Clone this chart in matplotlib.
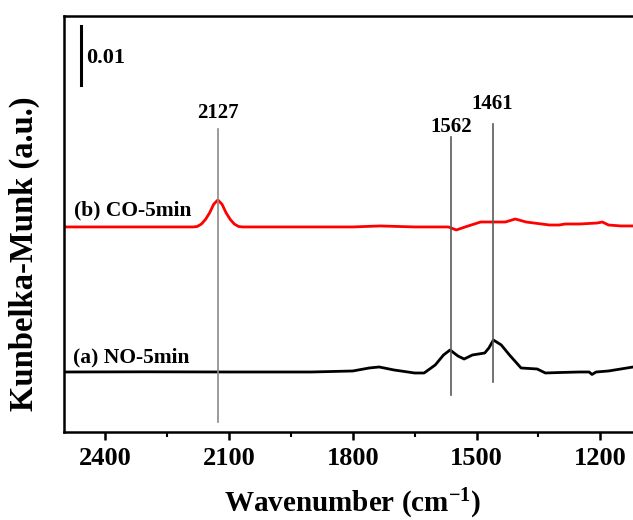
import matplotlib
matplotlib.use("Agg")
import matplotlib.pyplot as plt
from matplotlib.ticker import MultipleLocator

plt.rcParams['font.family'] = ['Liberation Serif', 'DejaVu Serif']
plt.rcParams['font.weight'] = 'bold'
plt.rcParams['mathtext.fontset'] = 'custom'
plt.rcParams['mathtext.rm'] = 'Liberation Serif:bold'

# (a) NO-5min spectrum (wavenumber, Kubelka-Munk)
no_wn = [2500, 2300, 2100, 1900, 1800, 1760, 1736, 1700, 1650, 1627, 1600, 1580,
         1564, 1545, 1530, 1510, 1480, 1470, 1459, 1440, 1420, 1392, 1353, 1333,
         1300, 1250, 1227, 1220, 1210, 1180, 1150, 1120, 1100]
no_km = [0.01017, 0.01020, 0.01017, 0.01017, 0.01034, 0.01085, 0.01102, 0.01051,
         0.01000, 0.01000, 0.01136, 0.01305, 0.01390, 0.01288, 0.01237, 0.01305,
         0.01339, 0.01424, 0.01559, 0.01475, 0.01305, 0.01085, 0.01068, 0.01000,
         0.01008, 0.01017, 0.01017, 0.00975, 0.01017, 0.01034, 0.01068, 0.01102,
         0.01119]

# (b) CO-5min spectrum
co_wn = [2500, 2300, 2187, 2177, 2167, 2157, 2147, 2137, 2127, 2117, 2107, 2097,
         2087, 2077, 2067, 1900, 1800, 1733, 1650, 1568, 1549, 1520, 1490, 1430,
         1406, 1380, 1323, 1300, 1285, 1250, 1207, 1195, 1180, 1150, 1100]
co_km = [0.03475, 0.03475, 0.03475, 0.03483, 0.03524, 0.03602, 0.03714, 0.03861,
         0.03932, 0.03861, 0.03714, 0.03602, 0.03524, 0.03483, 0.03475, 0.03475,
         0.03475, 0.03492, 0.03475, 0.03475, 0.03424, 0.03492, 0.03559, 0.03559,
         0.03610, 0.03559, 0.03508, 0.03508, 0.03525, 0.03525, 0.03542, 0.03559,
         0.03508, 0.03492, 0.03492]

# peak markers
peak_wn = [2127, 1562, 1461]
peak_labels = ['2127', '1562', '1461']
peak_top = [0.05136, 0.05000, 0.05220]
peak_bottom = [0.00169, 0.00627, 0.00847]
peak_label_y = [0.05410, 0.05170, 0.05560]
peak_colors = ['#8a8a8a', '#5a5a5a', '#5a5a5a']

series_labels = ['(a) NO-5min', '(b) CO-5min']
x_ticks = [2400, 2100, 1800, 1500, 1200]

fig = plt.figure(figsize=(6.33, 5.2), dpi=100)
ax = fig.add_axes([64/633, 88/520, 577.5/633, 416/520])

ax.plot(no_wn, no_km, color='black', lw=2.0, solid_joinstyle='round')
ax.plot(co_wn, co_km, color='#ff0000', lw=2.0, solid_joinstyle='round')

for wn, lab, yt, yb, yl, c in zip(peak_wn, peak_labels, peak_top, peak_bottom,
                                  peak_label_y, peak_colors):
    ax.plot([wn, wn], [yb, yt], color=c, lw=1.2)
    ax.text(wn, yl, lab, ha='center', va='center', fontsize=15, fontweight='bold')

ax.text(2478, 0.0127, series_labels[0], ha='left', va='center', fontsize=15.5,
        fontweight='bold')
ax.text(2475, 0.03746, series_labels[1], ha='left', va='center', fontsize=15.5,
        fontweight='bold')

# scale bar
ax.plot([2458, 2458], [0.0588, 0.0688], color='black', lw=2.2)
ax.text(2447, 0.0634, '0.01', ha='left', va='center', fontsize=16, fontweight='bold')

ax.set_xlim(2500, 1100)
ax.set_ylim(0, 0.0705)
ax.set_xticks(x_ticks)
ax.xaxis.set_minor_locator(MultipleLocator(150))
ax.set_yticks([])
ax.tick_params(axis='x', which='major', direction='out', length=6, width=1.8,
               labelsize=19, pad=5)
ax.tick_params(axis='x', which='minor', direction='out', length=3.5, width=1.5)
for lab in ax.get_xticklabels():
    lab.set_fontweight('bold')
for s in ax.spines.values():
    s.set_linewidth(1.8)

ax.set_xlabel('Wavenumber (cm$\\mathregular{^{-1}}$)', fontsize=21, fontweight='bold',
              labelpad=12)
ax.set_ylabel('Kunbelka-Munk (a.u.)', fontsize=23.5, fontweight='bold')
ax.yaxis.set_label_coords(-0.042, 0.428)

fig.savefig('out.png', dpi=100)
